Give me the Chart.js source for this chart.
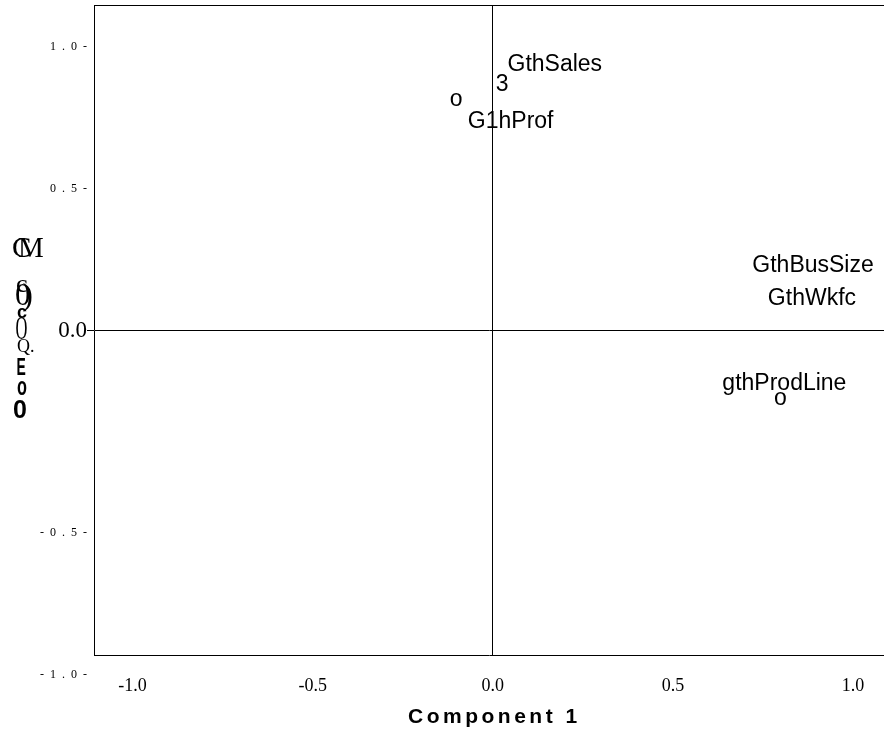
<!DOCTYPE html>
<html>
<head>
<meta charset="utf-8">
<script src="https://cdn.jsdelivr.net/npm/chart.js@4.4.0/dist/chart.umd.min.js"></script>
<style>
html,body{margin:0;padding:0;background:#fff;overflow:hidden}
#wrap{position:relative;width:884px;height:734px;background:#fff}
</style>
</head>
<body>
<div id="wrap"><canvas id="c" width="884" height="734"></canvas></div>
<script>
// ---- data ----
const variables = ["GthSales", "G1hProf", "GthBusSize", "GthWkfc", "gthProdLine"];
const component1 = [0.025, -0.103, 0.889, 0.886, 0.797];
const component2 = [0.873, 0.813, 0.239, 0.120, -0.236];
const markerGlyphs = ["3", "o", "", "", "o"];
const xTickValues = [-1.0, -0.5, 0.0, 0.5, 1.0];
const xTickLabels = ["-1.0", "-0.5", "0.0", "0.5", "1.0"];
const yTickValues = [-1.0, -0.5, 0.0, 0.5, 1.0];
const yTickLabels = ["-  1  .  0  -", "-  0  .  5  -", "0.0", "0  .  5  -", "1  .  0  -"];
const xAxisTitle = "Component 1";
const yAxisTitleFragments = ["C", "M", "c", "0)", "c", "O", "Q.", "E", "o", "0"];

// ---- styling / layout ----
const SERIF = '"Liberation Serif", "Times New Roman", serif';
const SANS = '"Liberation Sans", Arial, sans-serif';
const LABEL_FONT = '23px ' + SANS;
const LABEL_OFFSETS = [[53, -20], [55, 20], [0, 0], [0, 0], [4.5, -16.5]];
const Y_TITLE_LAYOUT = [
  {x: 13, dy: -83, font: '29px ' + SERIF},
  {x: 18, dy: -83, font: '29px ' + SERIF},
  {x: 16, dy: -45, font: '26px ' + SERIF},
  {x: 16, dy: -33.5, font: '31px ' + SERIF, ls: -8},
  {x: 17, dy: -17.5, font: 'bold 18px ' + SANS},
  {x: 16, dy: -2.5, font: '33px ' + SERIF, sx: 0.5},
  {x: 17, dy: 16.5, font: '18px ' + SERIF},
  {x: 17, dy: 35.5, font: 'bold 24px ' + SANS, sx: 0.58},
  {x: 17, dy: 57.5, font: 'bold 25px ' + SANS, sx: 0.65},
  {x: 13, dy: 78, font: 'bold 25px ' + SANS}
];

function drawInk(ctx, text, font, left, cy, opts) {
  opts = opts || {};
  ctx.save();
  ctx.font = font;
  if (opts.ls) { try { ctx.letterSpacing = opts.ls + 'px'; } catch (e) {} }
  ctx.textAlign = 'left';
  ctx.textBaseline = 'alphabetic';
  const m = ctx.measureText(text);
  const by = cy + (m.actualBoundingBoxAscent - m.actualBoundingBoxDescent) / 2;
  ctx.translate(left, by);
  ctx.scale(opts.sx || 1, 1);
  ctx.fillText(text, m.actualBoundingBoxLeft, 0);
  ctx.restore();
}
function drawCentered(ctx, text, font, cx, cy, ls) {
  ctx.save();
  ctx.font = font;
  if (ls) { try { ctx.letterSpacing = ls + 'px'; } catch (e) {} }
  ctx.textAlign = 'left';
  ctx.textBaseline = 'alphabetic';
  const m = ctx.measureText(text);
  const w = m.actualBoundingBoxRight + m.actualBoundingBoxLeft;
  const by = cy + (m.actualBoundingBoxAscent - m.actualBoundingBoxDescent) / 2;
  ctx.fillText(text, cx - w / 2 + m.actualBoundingBoxLeft, by);
  ctx.restore();
}
function drawCapCentered(ctx, text, font, cx, cy) {
  ctx.save();
  ctx.font = font;
  ctx.textAlign = 'center';
  ctx.textBaseline = 'alphabetic';
  const cap = ctx.measureText('H').actualBoundingBoxAscent;
  ctx.fillText(text, cx, cy + cap / 2);
  ctx.restore();
}

const decorPlugin = {
  id: 'decor',
  afterDraw(chart) {
    const ctx = chart.ctx;
    const a = chart.chartArea;
    ctx.save();
    ctx.fillStyle = '#000';
    ctx.strokeStyle = '#000';
    ctx.lineWidth = 1;
    // top frame line
    ctx.beginPath();
    ctx.moveTo(a.left, Math.round(a.top) + 0.5);
    ctx.lineTo(a.right, Math.round(a.top) + 0.5);
    ctx.stroke();
    // point markers and labels
    const meta = chart.getDatasetMeta(0);
    meta.data.forEach((pt, i) => {
      const g = markerGlyphs[i];
      if (g) drawCentered(ctx, g, LABEL_FONT, pt.x, pt.y);
      const off = LABEL_OFFSETS[i];
      drawCapCentered(ctx, variables[i], LABEL_FONT, pt.x + off[0], pt.y + off[1]);
    });
    // x axis title
    const xs = chart.scales.x;
    drawCentered(ctx, xAxisTitle, 'bold 21px ' + SANS, xs.getPixelForValue(0), a.bottom + 63, 3.5);
    // y axis title (as it appears in the source)
    const zeroY = chart.scales.y.getPixelForValue(0);
    yAxisTitleFragments.forEach((t, i) => {
      const L = Y_TITLE_LAYOUT[i];
      drawInk(ctx, t, L.font, L.x, zeroY + L.dy, {sx: L.sx, ls: L.ls});
    });
    ctx.restore();
  }
};

const zeroOnly = (ctx) => (ctx.tick && ctx.tick.value === 0) ? '#000' : 'rgba(0,0,0,0)';

new Chart(document.getElementById('c'), {
  type: 'scatter',
  data: {
    datasets: [{
      data: component1.map((v, i) => ({x: v, y: component2[i]})),
      pointRadius: 0,
      pointHoverRadius: 0,
      showLine: false
    }]
  },
  options: {
    responsive: false,
    animation: false,
    events: [],
    layout: {padding: {top: 5, left: 0, right: 0, bottom: 0}},
    plugins: {legend: {display: false}, tooltip: {enabled: false}, title: {display: false}},
    scales: {
      x: {
        type: 'linear',
        position: 'bottom',
        min: -1.107,
        max: 1.086,
        afterBuildTicks: (s) => { s.ticks = xTickValues.map(v => ({value: v})); },
        afterFit: (s) => { s.height = 79; s.paddingLeft = 0; s.paddingRight = 0; },
        grid: {drawTicks: false, lineWidth: 1, color: zeroOnly},
        border: {display: true, color: '#000', width: 1},
        ticks: {
          padding: 20, autoSkip: false, maxRotation: 0, color: '#000',
          font: {family: SERIF, size: 18},
          callback: (v, i) => xTickLabels[i]
        },
        title: {display: false}
      },
      y: {
        type: 'linear',
        position: 'left',
        min: -1.14,
        max: 1.147,
        afterBuildTicks: (s) => { s.ticks = yTickValues.map(v => ({value: v})); },
        afterFit: (s) => { s.width = 94; s.paddingTop = 0; s.paddingBottom = 0; },
        grid: {drawTicks: true, tickLength: 7, lineWidth: 1, color: zeroOnly, tickColor: zeroOnly},
        border: {display: true, color: '#000', width: 1},
        ticks: {
          padding: 0, autoSkip: false, color: '#000',
          font: (ctx) => {
            const v = ctx.tick ? ctx.tick.value : 1;
            if (v === 0) return {family: SERIF, size: 23};
            if (v < 0) return {family: SERIF, size: 12, lineHeight: '120px'};
            return {family: SERIF, size: 12};
          },
          callback: (v, i) => (yTickValues[i] < 0 ? ["", yTickLabels[i]] : yTickLabels[i])
        },
        title: {display: false}
      }
    }
  },
  plugins: [decorPlugin]
});
</script>
</body>
</html>
